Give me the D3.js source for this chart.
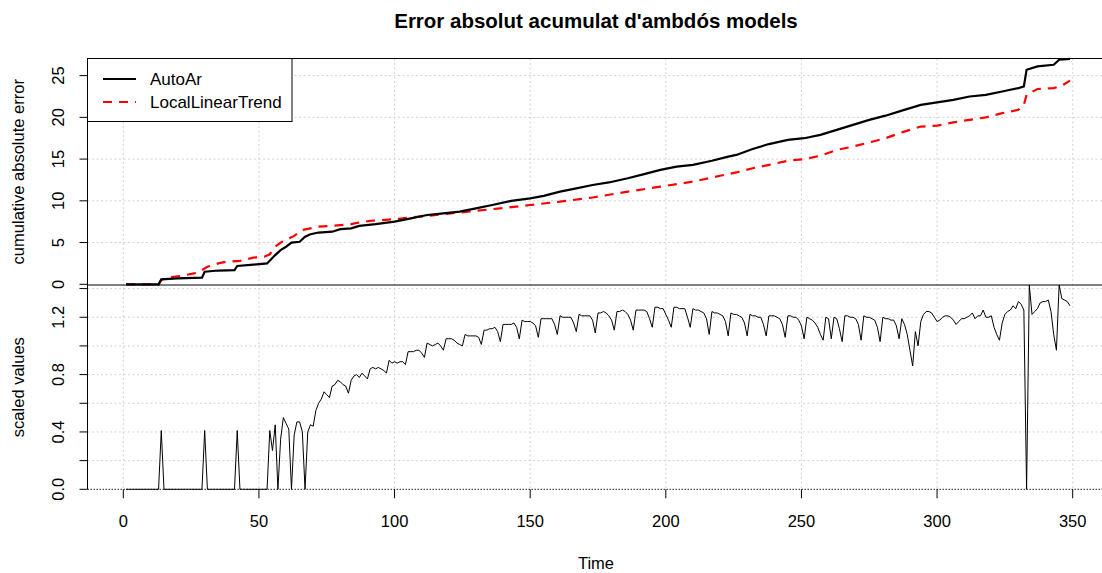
<!DOCTYPE html>
<html>
<head>
<meta charset="utf-8">
<script src="https://cdn.jsdelivr.net/npm/d3@7"></script>
<style>
  body { margin: 0; background: #fff; }
  text { font-family: "Liberation Sans", Arial, sans-serif; fill: #000; }
</style>
</head>
<body>
<svg width="1102" height="573"></svg>
<script>
// time axis
var timeTicks = [0, 50, 100, 150, 200, 250, 300, 350];

// top panel: cumulative absolute error, read at break points
var autoArTime = [1, 13, 14, 20, 29, 30, 35, 41, 42, 48, 53, 56, 58, 60, 62, 65, 67, 69, 72, 77, 80, 84, 87, 93,
  100, 106, 112, 118, 124, 130, 136, 143, 150, 155, 161, 167, 173, 179, 186, 192, 198, 204, 210, 217, 223,
  226, 232, 238, 245, 251, 257, 263, 269, 275, 281, 287, 294, 300, 306, 312, 318, 324, 330, 332, 333, 337,
  343, 345, 349];
var autoArErr = [0, 0, 0.6, 0.7, 0.8, 1.5, 1.65, 1.7, 2.2, 2.35, 2.5, 3.5, 4.1, 4.5, 5.0, 5.1, 5.7, 6.0, 6.2, 6.3, 6.6, 6.7, 7.0, 7.2,
  7.5, 7.9, 8.3, 8.5, 8.7, 9.1, 9.5, 10.0, 10.3, 10.6, 11.1, 11.5, 11.9, 12.2, 12.7, 13.2, 13.7, 14.1, 14.3, 14.8, 15.3,
  15.5, 16.2, 16.8, 17.3, 17.5, 17.9, 18.5, 19.1, 19.7, 20.2, 20.8, 21.5, 21.8, 22.1, 22.5, 22.7, 23.1, 23.5, 23.7, 25.7, 26.1,
  26.3, 26.9, 27.0];

var lltTime = [1, 13, 14, 16, 21, 26, 28, 31, 35, 38, 43, 48, 52, 54, 56, 59, 63, 66, 72, 77, 84, 87, 91,
  100, 112, 124, 136, 150, 161, 173, 186, 198, 210, 220, 226, 232, 238, 245, 251, 257, 263, 269, 275,
  281, 287, 294, 300, 306, 312, 318, 324, 330, 332, 333, 337, 343, 346, 349];
var lltErr = [0, 0, 0.5, 0.8, 1.0, 1.3, 1.5, 2.1, 2.5, 2.7, 2.8, 3.2, 3.3, 3.6, 4.5, 5.2, 5.8, 6.5, 6.9, 7.0, 7.2, 7.4, 7.6,
  7.8, 8.2, 8.6, 9.0, 9.5, 9.9, 10.4, 11.1, 11.7, 12.3, 13.0, 13.4, 13.9, 14.3, 14.8, 15.0, 15.4, 16.1, 16.5, 17.0,
  17.5, 18.2, 18.9, 19.0, 19.4, 19.7, 20.0, 20.5, 20.9, 21.5, 22.7, 23.4, 23.5, 23.8, 24.4];

// bottom panel: scaled values, one per day starting at t = 1
var scaledStart = 1;
var scaledValues = [
  0, 0, 0, 0, 0, 0, 0, 0, 0, 0,
  0, 0, 0, 0.41, 0, 0, 0, 0, 0, 0,
  0, 0, 0, 0, 0, 0, 0, 0, 0, 0.41,
  0, 0, 0, 0, 0, 0, 0, 0, 0, 0,
  0, 0.41, 0, 0, 0, 0, 0, 0, 0, 0,
  0, 0, 0, 0.41, 0.27, 0.45, 0, 0.35, 0.50, 0.46,
  0.42, 0, 0.38, 0.47, 0.47, 0.40, 0, 0.40, 0.45, 0.44,
  0.55, 0.60, 0.63, 0.68, 0.66, 0.64, 0.72, 0.73, 0.76, 0.75,
  0.73, 0.72, 0.67, 0.76, 0.79, 0.80, 0.78, 0.81, 0.79, 0.77,
  0.84, 0.85, 0.84, 0.85, 0.84, 0.83, 0.81, 0.90, 0.88, 0.89,
  0.88, 0.89, 0.89, 0.87, 0.96, 0.96, 0.96, 0.97, 0.97, 0.95,
  0.92, 1.02, 1.01, 1.00, 1.01, 1.02, 1.00, 0.97, 1.05, 1.05,
  1.05, 1.04, 1.02, 1.01, 1.00, 1.08, 1.07, 1.07, 1.07, 1.07,
  1.06, 1.01, 1.11, 1.11, 1.12, 1.12, 1.13, 1.10, 1.03, 1.15,
  1.15, 1.15, 1.15, 1.16, 1.13, 1.05, 1.18, 1.17, 1.17, 1.17,
  1.16, 1.14, 1.06, 1.19, 1.19, 1.19, 1.19, 1.19, 1.15, 1.08,
  1.21, 1.20, 1.20, 1.20, 1.20, 1.16, 1.10, 1.22, 1.21, 1.21,
  1.21, 1.21, 1.18, 1.09, 1.23, 1.23, 1.24, 1.23, 1.21, 1.18,
  1.11, 1.24, 1.24, 1.25, 1.24, 1.22, 1.18, 1.11, 1.25, 1.25,
  1.25, 1.25, 1.24, 1.19, 1.13, 1.27, 1.27, 1.26, 1.26, 1.22,
  1.18, 1.13, 1.27, 1.27, 1.26, 1.26, 1.26, 1.20, 1.13, 1.26,
  1.25, 1.25, 1.24, 1.23, 1.19, 1.08, 1.24, 1.23, 1.23, 1.22,
  1.21, 1.17, 1.07, 1.23, 1.22, 1.22, 1.21, 1.20, 1.16, 1.07,
  1.22, 1.21, 1.21, 1.20, 1.20, 1.15, 1.07, 1.21, 1.21, 1.21,
  1.20, 1.19, 1.15, 1.06, 1.21, 1.21, 1.20, 1.20, 1.18, 1.14,
  1.05, 1.20, 1.19, 1.18, 1.16, 1.13, 1.08, 1.04, 1.20, 1.19,
  1.05, 1.20, 1.19, 1.12, 1.03, 1.21, 1.21, 1.20, 1.20, 1.19,
  1.15, 1.04, 1.21, 1.20, 1.20, 1.19, 1.18, 1.13, 1.03, 1.20,
  1.19, 1.19, 1.18, 1.18, 1.14, 1.05, 1.19, 1.15, 1.08, 0.97,
  0.86, 1.10, 1.00, 1.17, 1.22, 1.24, 1.24, 1.23, 1.20, 1.17,
  1.18, 1.20, 1.21, 1.21, 1.20, 1.18, 1.15, 1.17, 1.19, 1.19,
  1.20, 1.21, 1.23, 1.19, 1.21, 1.21, 1.25, 1.20, 1.20, 1.21,
  1.13, 1.08, 1.04, 1.16, 1.22, 1.24, 1.25, 1.28, 1.26, 1.31,
  1.29, 1.25, 0.00, 1.425, 1.22, 1.24, 1.26, 1.30, 1.31, 1.31,
  1.32, 1.24, 1.08, 0.97, 1.425, 1.33, 1.32, 1.31, 1.28
];

var topTicks = [0, 5, 10, 15, 20, 25];
var bottomTicks = [0, 0.2, 0.4, 0.6, 0.8, 1.0, 1.2, 1.4];
var bottomLabels = [0, 0.4, 0.8, 1.2];
var seriesNames = ["AutoAr", "LocalLinearTrend"];

var svg = d3.select("svg"),
    width = +svg.attr("width"),
    height = +svg.attr("height");

var left = 87.5, right = width, topY = 58.5, midY = 285, bottomY = 489.3;
var fontSize = "16.5px";

var x = d3.scaleLinear().domain([0, 350]).range([123.3, 1072.7]);
var yTop = d3.scaleLinear().domain([0, 27.05]).range([284.3, topY]);
var yBot = d3.scaleLinear().domain([0, 1.425]).range([bottomY, midY]);

var gridColor = "#d3d3d3";

// grid lines
var grid = svg.append("g");
grid.selectAll(".vgrid")
  .data(timeTicks)
  .enter().append("line")
    .attr("x1", d => x(d)).attr("x2", d => x(d))
    .attr("y1", topY).attr("y2", bottomY)
    .attr("stroke", gridColor).attr("stroke-dasharray", "2,2.5");
grid.selectAll(".hgridTop")
  .data(topTicks.slice(1))
  .enter().append("line")
    .attr("x1", left).attr("x2", right)
    .attr("y1", d => yTop(d)).attr("y2", d => yTop(d))
    .attr("stroke", gridColor).attr("stroke-dasharray", "2,2.5");
grid.selectAll(".hgridBot")
  .data(bottomTicks.slice(1))
  .enter().append("line")
    .attr("x1", left).attr("x2", right)
    .attr("y1", d => yBot(d)).attr("y2", d => yBot(d))
    .attr("stroke", gridColor).attr("stroke-dasharray", "2,2.5");

// top panel lines
var autoAr = autoArTime.map((t, i) => ({t: t, v: autoArErr[i]}));
var llt = lltTime.map((t, i) => ({t: t, v: lltErr[i]}));
var lineTop = d3.line().x(d => x(d.t)).y(d => yTop(d.v));

svg.append("path").datum(llt)
  .attr("d", lineTop).attr("fill", "none")
  .attr("stroke", "#ff0000").attr("stroke-width", 2.2)
  .attr("stroke-dasharray", "9,7");
svg.append("path").datum(autoAr)
  .attr("d", lineTop).attr("fill", "none")
  .attr("stroke", "#000").attr("stroke-width", 2.2);

// bottom panel line
var scaled = scaledValues.map((v, i) => ({t: scaledStart + i, v: v}));
svg.append("line")
  .attr("x1", left).attr("x2", right)
  .attr("y1", bottomY).attr("y2", bottomY)
  .attr("stroke", "#222").attr("stroke-dasharray", "1.5,1.5");
svg.append("path").datum(scaled)
  .attr("d", d3.line().x(d => x(d.t)).y(d => yBot(d.v)))
  .attr("fill", "none").attr("stroke", "#000").attr("stroke-width", 1);

// frame
svg.append("line").attr("x1", left).attr("x2", right).attr("y1", topY).attr("y2", topY).attr("stroke", "#000");
svg.append("line").attr("x1", left).attr("x2", right).attr("y1", midY).attr("y2", midY).attr("stroke", "#000");
svg.append("line").attr("x1", left).attr("x2", left).attr("y1", topY).attr("y2", bottomY).attr("stroke", "#000");

// y axes (ticks + rotated labels, R style)
function yAxis(scale, ticks, labels, fmt) {
  var g = svg.append("g");
  g.selectAll("line").data(ticks).enter().append("line")
    .attr("x1", left - 8).attr("x2", left)
    .attr("y1", d => scale(d)).attr("y2", d => scale(d))
    .attr("stroke", "#000");
  g.selectAll("text").data(labels).enter().append("text")
    .attr("transform", d => "translate(64," + scale(d) + ") rotate(-90)")
    .attr("text-anchor", "middle")
    .style("font-size", fontSize)
    .text(fmt);
}
yAxis(yTop, topTicks, topTicks, d => d);
yAxis(yBot, bottomTicks, bottomLabels, d3.format(".1f"));

// x axis
var xg = svg.append("g");
xg.selectAll("line").data(timeTicks).enter().append("line")
  .attr("x1", d => x(d)).attr("x2", d => x(d))
  .attr("y1", bottomY).attr("y2", bottomY + 9)
  .attr("stroke", "#000");
xg.selectAll("text").data(timeTicks).enter().append("text")
  .attr("x", d => x(d)).attr("y", 527)
  .attr("text-anchor", "middle")
  .style("font-size", fontSize)
  .text(d => d);

// axis titles
svg.append("text").attr("x", 596).attr("y", 569)
  .attr("text-anchor", "middle").style("font-size", fontSize).text("Time");
svg.append("text").attr("transform", "translate(24," + ((topY + midY) / 2) + ") rotate(-90)")
  .attr("text-anchor", "middle").style("font-size", fontSize).text("cumulative absolute error");
svg.append("text").attr("transform", "translate(24," + ((midY + bottomY) / 2) + ") rotate(-90)")
  .attr("text-anchor", "middle").style("font-size", fontSize).text("scaled values");

// title
svg.append("text").attr("x", 596).attr("y", 28)
  .attr("text-anchor", "middle")
  .style("font-size", "20.5px").style("font-weight", "bold")
  .text("Error absolut acumulat d'ambdós models");

// legend
var lg = svg.append("g");
lg.append("rect").attr("x", left).attr("y", topY).attr("width", 204.5).attr("height", 63)
  .attr("fill", "#fff").attr("stroke", "#000");
lg.selectAll("line").data(seriesNames).enter().append("line")
  .attr("x1", 103).attr("x2", 136)
  .attr("y1", (d, i) => 79 + i * 23).attr("y2", (d, i) => 79 + i * 23)
  .attr("stroke", (d, i) => i ? "#ff0000" : "#000")
  .attr("stroke-width", 2.2)
  .attr("stroke-dasharray", (d, i) => i ? "9,7" : null);
lg.selectAll("text").data(seriesNames).enter().append("text")
  .attr("x", 150).attr("y", (d, i) => 85 + i * 23)
  .style("font-size", "17px")
  .text(d => d);
</script>
</body>
</html>
